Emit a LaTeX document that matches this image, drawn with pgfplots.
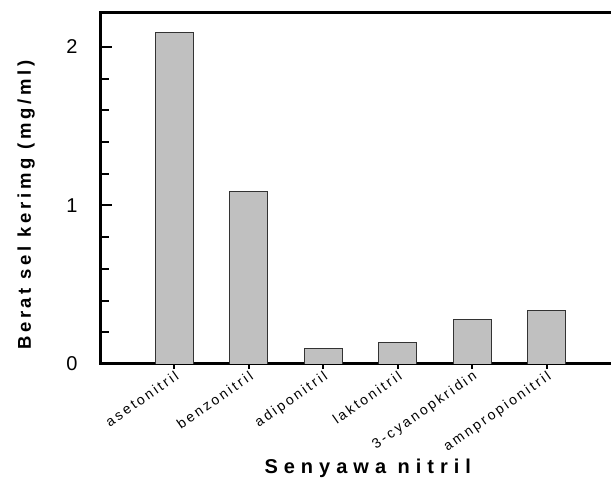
\documentclass[border=0pt]{standalone}
\usepackage{fontspec}
\setmainfont{Liberation Sans}
\newfontfamily\spaced[LetterSpace=18]{Liberation Sans}
\newfontfamily\spacedy[LetterSpace=20]{Liberation Sans}
\newfontfamily\spacedb[LetterSpace=30]{Liberation Sans}
\usepackage{pgfplots}
\pgfplotsset{compat=1.18}
\definecolor{barfill}{RGB}{192,192,192}
\begin{document}
\begin{tikzpicture}
\useasboundingbox (0,0) rectangle (611pt,478pt);
\begin{axis}[
  at={(100pt,114pt)}, anchor=south west,
  scale only axis, width=521pt, height=351pt,
  xmin=-1, xmax=6, ymin=0, ymax=2.214,
  separate axis lines,
  axis line style={line width=3pt, black, line cap=rect},
  /pgf/number format/assume math mode=true,
  ytick={0,1,2}, minor ytick={0.2,0.4,0.6,0.8,1.2,1.4,1.6,1.8},
  ytick pos=left, xtick pos=left,
  ytick align=inside, xtick align=outside,
  major tick length=12pt, minor tick length=9pt,
  tick style={black, line width=2pt},
  xtick style={/pgfplots/major tick length=5pt},
  xtick={0,1,2,3,4,5},
  xticklabels={asetonitril,benzonitril,adiponitril,laktonitril,3-cyanopkridin,amnpropionitril},
  xticklabel shift=-9pt,
  xticklabel style={rotate=35, anchor=north east, inner sep=2pt, font=\spaced\fontsize{14}{16}\selectfont},
  yticklabel style={font=\fontsize{20}{22}\selectfont, xshift=-19pt},
  ylabel={Berat sel kerimg (mg/ml)},
  every axis y label/.style={at={(axis description cs:-0.142,0.453)}, rotate=90, anchor=center, font=\spacedy\bfseries\fontsize{18.5}{20}\selectfont},
  xlabel={Senyawa nitril},
  every axis x label/.style={at={(axis description cs:0.514,-0.298)}, anchor=center, font=\spacedb\bfseries\fontsize{20}{22}\selectfont},
]
\addplot[ybar, bar width=38pt, fill=barfill, draw=black!80, line width=0.9pt]
  coordinates {(0,2.09)(1,1.09)(2,0.095)(3,0.135)(4,0.28)(5,0.34)};
\end{axis}
\end{tikzpicture}
\end{document}
